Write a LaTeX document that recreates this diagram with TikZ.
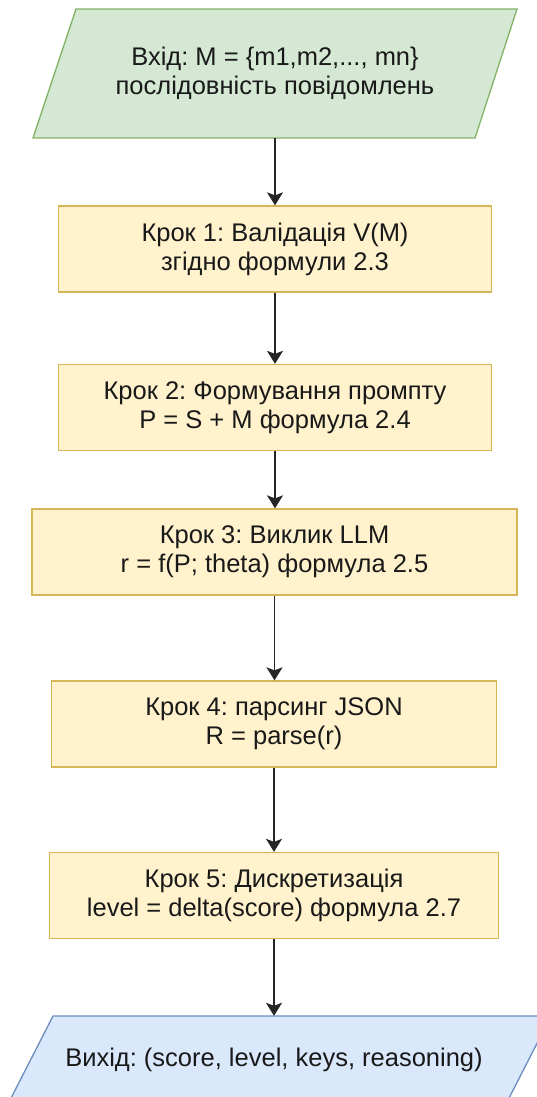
\documentclass[tikz,border=0pt]{standalone}
\usepackage{fontspec}
\setmainfont{Liberation Sans}
\usetikzlibrary{arrows.meta}
\definecolor{infill}{HTML}{D5E8D4}
\definecolor{inline}{HTML}{82B366}
\definecolor{stepfill}{HTML}{FFF2CC}
\definecolor{stepline}{HTML}{D6B656}
\definecolor{outfill}{HTML}{DAE8FC}
\definecolor{outline}{HTML}{6C8EBF}
\frenchspacing
\begin{document}
\begin{tikzpicture}[x=1pt,y=-1pt,
  lbl/.style={inner sep=0pt, align=center, text=black!90, font=\fontsize{25.5}{29}\selectfont},
  stepbox/.style={lbl, draw=stepline, fill=stepfill, line width=1.3pt, minimum height=86pt},
  flow/.style={draw=black!85, line width=1.6pt, -{Stealth[length=13pt,width=16pt,inset=3pt]}}]
\useasboundingbox (0,0) rectangle (537,1097);
\clip (0,0) rectangle (537,1097);
% input parallelogram
\path[fill=infill, draw=inline, line width=1.3pt] (76,9) -- (517,9) -- (475,138) -- (33,138) -- cycle;
\node[lbl, minimum width=400pt, minimum height=129pt] (in) at (275,73.5) {Вхід: M = \{m1,m2,..., mn\}\\послідовність повідомлень};
% steps
\node[stepbox, minimum width=433pt] (s1) at (275,249) {Крок 1: Валідація V(M)\\ згідно формули 2.3};
\node[stepbox, minimum width=433pt] (s2) at (275,407.5) {Крок 2: Формування промпту\\P = S + M формула 2.4};
\node[stepbox, minimum width=485pt] (s3) at (274.5,552) {Крок 3: Виклик LLM\\r = f(P; theta) формула 2.5};
\node[stepbox, minimum width=445pt] (s4) at (274,724) {Крок 4: парсинг JSON\\R = parse(r)};
\node[stepbox, minimum width=449pt] (s5) at (274,895.5) {Крок 5: Дискретизація\\level = delta(score) формула 2.7};
% output parallelogram
\path[fill=outfill, draw=outline, line width=1.3pt] (53,1016) -- (551,1016) -- (506,1104) -- (8,1104) -- cycle;
\node[lbl, minimum width=420pt, minimum height=88pt] (out) at (274,1060) {Вихід: (score, level, keys, reasoning)};
% connectors
\draw[flow] (in.south) -- (in.south |- s1.north);
\draw[flow] (s1.south) -- (s1.south |- s2.north);
\draw[flow] (s2.south) -- (s2.south |- s3.north);
\draw[flow] (s3.south) -- (s3.south |- s4.north);
\draw[flow] (s4.south) -- (s4.south |- s5.north);
\draw[flow] (s5.south) -- (s5.south |- out.north);
\end{tikzpicture}
\end{document}
